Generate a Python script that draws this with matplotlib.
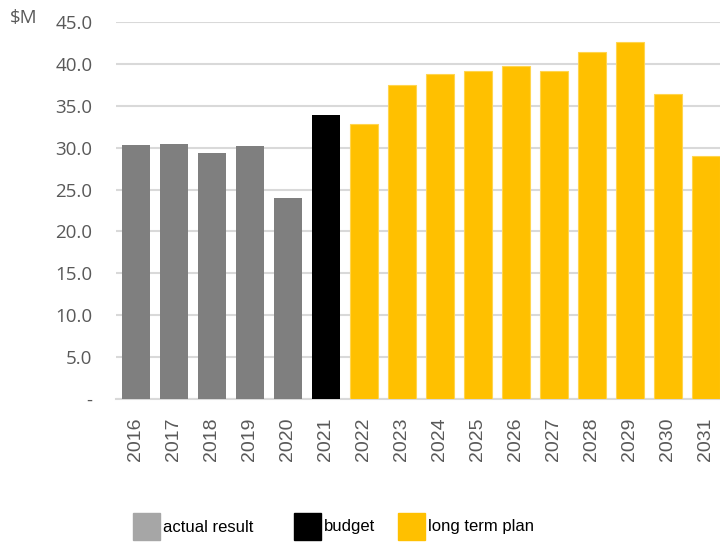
import matplotlib
matplotlib.use("Agg")
import matplotlib.pyplot as plt
from matplotlib import font_manager
from matplotlib.patches import Rectangle

# annual totals, $M
years = [str(y) for y in range(2016, 2032)]
values = [30.3, 30.4, 29.4, 30.2, 24.0, 33.9, 32.8, 37.5,
          38.8, 39.2, 39.8, 39.1, 41.4, 42.6, 36.4, 29.0]
kinds = ["actual"] * 5 + ["budget"] + ["plan"] * 10

bar_colors = {"actual": "#7f7f7f", "budget": "#000000", "plan": "#ffc000"}
legend_entries = [("actual result", "#a6a6a6"),
                  ("budget", "#000000"),
                  ("long term plan", "#ffc000")]

# narrow face for the legend if there is one
try:
    font_manager.findfont("Liberation Sans Narrow", fallback_to_default=False)
    legend_font, legend_size = "Liberation Sans Narrow", 14
except ValueError:
    legend_font, legend_size = "Liberation Sans", 12

fig = plt.figure(figsize=(7.2, 5.43), dpi=100)
ax = fig.add_axes([116 / 720, 1 - 399 / 543, 1 - 116 / 720, 377 / 543])

x = range(len(years))
ax.bar(x, values, width=0.74, color=[bar_colors[k] for k in kinds],
       edgecolor=["none" if k != "plan" else "#ffd54f" for k in kinds],
       linewidth=0.8, zorder=3)

ax.set_ylim(0, 45)
ax.set_xlim(-0.52, 15.37)
ax.set_yticks(range(0, 50, 5))
ax.set_yticklabels(["-"] + [f"{v:.1f}" for v in range(5, 50, 5)],
                   fontsize=13.5, color="#595959", family="Open Sans")
ax.set_xticks(list(x))
ax.set_xticklabels(years, rotation=90, fontsize=14, color="#595959",
                   family="Liberation Sans")
ax.tick_params(axis="y", length=0, pad=17)
ax.tick_params(axis="x", length=0, pad=13.5)

ax.grid(axis="y", color="#d9d9d9", linewidth=1.5, zorder=0)
for side in ("top", "right", "left"):
    ax.spines[side].set_visible(False)
ax.spines["bottom"].set_color("#d9d9d9")
ax.spines["bottom"].set_linewidth(1.5)

fig.text(10 / 720, 1 - 18 / 543, "$M", fontsize=13.5, color="#595959",
         family="Open Sans", va="center", ha="left")

# legend drawn as squares with labels along the bottom
W, H = 720, 543
left_px = [133, 294, 398]
for (label, color), lx in zip(legend_entries, left_px):
    fig.add_artist(Rectangle((lx / W, 1 - 540 / H), 27 / W, 27 / H,
                             transform=fig.transFigure, color=color))
    fig.text((lx + 30) / W, 1 - 527 / H, label, fontsize=legend_size,
             color="#000000", va="center", ha="left", family=legend_font)

fig.savefig("out.png", dpi=100)
